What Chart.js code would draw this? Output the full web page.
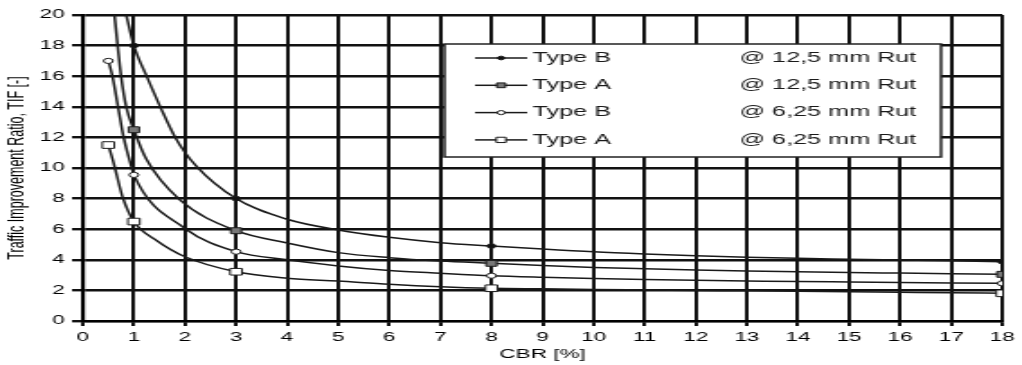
<!DOCTYPE html>
<html>
<head>
<meta charset="utf-8">
<title>TIF vs CBR</title>
<script src="https://cdn.jsdelivr.net/npm/chart.js"></script>
<style>
  html, body { margin: 0; padding: 0; background: #fff; overflow: hidden; }
  /* the source figure is stretched sideways, so draw it narrow and widen it */
  .wrap { width: 568px; height: 365px; transform: scaleX(1.7993); transform-origin: 0 0; }
</style>
</head>
<body>
<div class="wrap"><canvas id="tifChart"></canvas></div>
<script>
// legend text
const typeLabels = ["Type B", "Type A", "Type B", "Type A"];
const rutLabels = ["@ 12,5 mm Rut", "@ 12,5 mm Rut", "@ 6,25 mm Rut", "@ 6,25 mm Rut"];

// axis ranges
const cbrMax = 18;
const tifMax = 20;
const tifStep = 2;

// CBR values where the markers sit
const markerCbr = [0.5, 1, 3, 8, 18];

// Type B @ 12,5 mm
const cbrB125 = [0.85, 1, 1.25, 1.53, 1.81, 2.2, 3, 4, 5, 6, 7, 8, 9, 10, 11, 12, 13, 14, 15, 16, 17, 18];
const tifB125 = [20, 18, 16, 13.9, 12, 10.2, 8, 6.65, 5.95, 5.47, 5.12, 4.9, 4.7, 4.52, 4.38, 4.26, 4.17, 4.1, 4.04, 3.98, 3.93, 3.88];

// Type A @ 12,5 mm
const cbrA125 = [0.62, 0.75, 0.85, 1, 1.24, 1.89, 3, 4, 5, 6, 7, 8, 9, 10, 11, 12, 13, 14, 15, 16, 17, 18];
const tifA125 = [20, 16, 14, 12.5, 10.6, 7.95, 5.9, 5.1, 4.47, 4.14, 3.92, 3.77, 3.62, 3.5, 3.41, 3.33, 3.27, 3.22, 3.17, 3.13, 3.09, 3.05];

// Type B @ 6,25 mm
const cbrB625 = [0.5, 0.58, 0.69, 0.8, 0.95, 1, 2, 3, 4, 5, 6, 7, 8, 9, 10, 11, 12, 13, 14, 15, 16, 17, 18];
const tifB625 = [17, 16, 14, 12, 10.1, 9.55, 6.05, 4.53, 4.0, 3.6, 3.3, 3.12, 2.96, 2.86, 2.78, 2.71, 2.66, 2.62, 2.58, 2.55, 2.52, 2.49, 2.46];

// Type A @ 6,25 mm
const cbrA625 = [0.5, 0.59, 0.78, 1, 1.45, 2, 3, 4, 5, 6, 7, 8, 9, 10, 11, 12, 13, 14, 15, 16, 17, 18];
const tifA625 = [11.5, 10.5, 8.1, 6.5, 5.25, 4.2, 3.22, 2.8, 2.61, 2.4, 2.24, 2.14, 2.1, 2.06, 2.03, 2.0, 1.97, 1.94, 1.91, 1.88, 1.85, 1.81];

const ink = "#000";
const font = { family: "'Liberation Sans', Arial, sans-serif", size: 12.5 };

function toPoints(xs, ys) {
  return xs.map((x, i) => ({ x: x, y: ys[i] }));
}

function series(i, xs, ys, style, radius, fill) {
  return {
    label: typeLabels[i] + " " + rutLabels[i],
    data: toPoints(xs, ys),
    borderColor: "#1a1a1a",
    borderWidth: 1.5,
    cubicInterpolationMode: "monotone",
    pointStyle: style,
    pointBackgroundColor: fill,
    pointBorderColor: "#1a1a1a",
    pointBorderWidth: 1,
    pointRadius: function (c) {
      return c.raw && markerCbr.includes(c.raw.x) ? radius : 0;
    },
    legendRadius: radius
  };
}

// box legend drawn inside the plot, two text columns
const boxLegend = {
  id: "boxLegend",
  afterDatasetsDraw(chart) {
    const ctx = chart.ctx;
    ctx.save();
    ctx.fillStyle = "#fff";
    ctx.strokeStyle = "#222";
    ctx.lineWidth = 1.5;
    ctx.fillRect(247, 44, 276, 113);
    ctx.strokeRect(247, 44, 276, 113);
    ctx.font = "14px 'Liberation Sans', Arial, sans-serif";
    ctx.textBaseline = "middle";
    chart.data.datasets.forEach(function (ds, i) {
      const y = 58 + i * 27.3;
      ctx.strokeStyle = ds.borderColor;
      ctx.lineWidth = ds.borderWidth;
      ctx.beginPath();
      ctx.moveTo(264, y);
      ctx.lineTo(293, y);
      ctx.stroke();
      ctx.fillStyle = ds.pointBackgroundColor;
      ctx.strokeStyle = ds.pointBorderColor;
      ctx.lineWidth = 1;
      Chart.helpers.drawPoint(ctx, { pointStyle: ds.pointStyle, radius: ds.legendRadius * 0.8, borderWidth: 1 }, 278.5, y);
      ctx.fillStyle = "#1a1a1a";
      ctx.fillText(typeLabels[i], 296, y);
      ctx.fillText(rutLabels[i], 411, y);
    });
    ctx.restore();
  }
};

new Chart("tifChart", {
  type: "line",
  data: {
    datasets: [
      series(0, cbrB125, tifB125, "circle", 2.3, "#111"),
      series(1, cbrA125, tifA125, "rect", 4.2, "#777"),
      series(2, cbrB625, tifB625, "circle", 2.6, "#fff"),
      series(3, cbrA625, tifA625, "rect", 4.7, "#fff")
    ]
  },
  options: {
    responsive: true,
    maintainAspectRatio: false,
    animation: false,
    layout: { padding: { top: 15, right: 8, left: 0, bottom: 0 } },
    plugins: {
      legend: { display: false },
      tooltip: { enabled: false }
    },
    scales: {
      x: {
        type: "linear",
        min: 0,
        max: cbrMax,
        ticks: { stepSize: 1, color: ink, font: font, padding: 4 },
        grid: { color: "#111", lineWidth: 2, tickLength: 5 },
        border: { color: ink, width: 2.2 },
        title: { display: true, text: "CBR [%]", color: ink, font: font, padding: { top: 0, bottom: 3 } },
        afterFit: function (s) { s.height = 44; }
      },
      y: {
        min: 0,
        max: tifMax,
        ticks: { stepSize: tifStep, color: ink, font: font, padding: 4 },
        grid: { color: "#111", lineWidth: 2.4, tickLength: 6 },
        border: { color: ink, width: 2.2 },
        title: { display: true, text: "Traffic Improvement Ratio, TIF [-]", color: ink, font: font, padding: { top: 2, bottom: 4 } },
        afterFit: function (s) { s.width = 46; }
      }
    }
  },
  plugins: [boxLegend]
});
</script>
</body>
</html>
